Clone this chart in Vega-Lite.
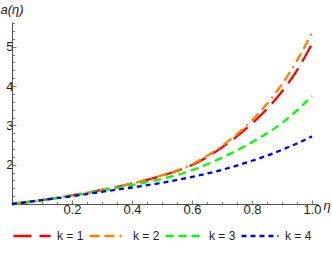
{
  "$schema": "https://vega.github.io/schema/vega-lite/v6.json",
  "width": 306,
  "height": 182,
  "autosize": "none",
  "padding": {"left": 12, "top": 22, "right": 14, "bottom": 49},
  "data": {
    "values": [
      {"k": 1, "eta": 0, "a": 1}, {"k": 1, "eta": 0.1, "a": 1.10}, {"k": 1, "eta": 0.2, "a": 1.22}, {"k": 1, "eta": 0.3, "a": 1.36}, {"k": 1, "eta": 0.4, "a": 1.52}, {"k": 1, "eta": 0.5, "a": 1.72}, {"k": 1, "eta": 0.6, "a": 1.99}, {"k": 1, "eta": 0.7, "a": 2.44}, {"k": 1, "eta": 0.8, "a": 3.05}, {"k": 1, "eta": 0.85, "a": 3.42}, {"k": 1, "eta": 0.9, "a": 3.86}, {"k": 1, "eta": 0.95, "a": 4.40}, {"k": 1, "eta": 1.0, "a": 5.07},
      {"k": 2, "eta": 0, "a": 1}, {"k": 2, "eta": 0.1, "a": 1.10}, {"k": 2, "eta": 0.2, "a": 1.22}, {"k": 2, "eta": 0.3, "a": 1.36}, {"k": 2, "eta": 0.4, "a": 1.52}, {"k": 2, "eta": 0.5, "a": 1.73}, {"k": 2, "eta": 0.6, "a": 2.01}, {"k": 2, "eta": 0.7, "a": 2.48}, {"k": 2, "eta": 0.8, "a": 3.13}, {"k": 2, "eta": 0.85, "a": 3.55}, {"k": 2, "eta": 0.9, "a": 4.05}, {"k": 2, "eta": 0.95, "a": 4.65}, {"k": 2, "eta": 1.0, "a": 5.36},
      {"k": 3, "eta": 0, "a": 1}, {"k": 3, "eta": 0.1, "a": 1.10}, {"k": 3, "eta": 0.2, "a": 1.21}, {"k": 3, "eta": 0.3, "a": 1.34}, {"k": 3, "eta": 0.4, "a": 1.48}, {"k": 3, "eta": 0.5, "a": 1.64}, {"k": 3, "eta": 0.6, "a": 1.86}, {"k": 3, "eta": 0.7, "a": 2.18}, {"k": 3, "eta": 0.8, "a": 2.57}, {"k": 3, "eta": 0.85, "a": 2.80}, {"k": 3, "eta": 0.9, "a": 3.06}, {"k": 3, "eta": 0.95, "a": 3.38}, {"k": 3, "eta": 1.0, "a": 3.75},
      {"k": 4, "eta": 0, "a": 1}, {"k": 4, "eta": 0.1, "a": 1.10}, {"k": 4, "eta": 0.2, "a": 1.20}, {"k": 4, "eta": 0.3, "a": 1.31}, {"k": 4, "eta": 0.4, "a": 1.42}, {"k": 4, "eta": 0.5, "a": 1.54}, {"k": 4, "eta": 0.6, "a": 1.69}, {"k": 4, "eta": 0.7, "a": 1.87}, {"k": 4, "eta": 0.8, "a": 2.10}, {"k": 4, "eta": 0.85, "a": 2.23}, {"k": 4, "eta": 0.9, "a": 2.38}, {"k": 4, "eta": 0.95, "a": 2.54}, {"k": 4, "eta": 1.0, "a": 2.72}
    ]
  },
  "mark": {"type": "line", "strokeWidth": 2.3, "interpolate": "monotone"},
  "encoding": {
    "x": {
      "field": "eta", "type": "quantitative",
      "scale": {"domain": [0, 1.02], "nice": false, "zero": false},
      "axis": {
        "title": "η", "titleFontStyle": "italic", "titleFontWeight": "normal", "titleFontSize": 13,
        "titleColor": "#222", "titleAngle": 0, "titleX": 311, "titleY": 1, "titleAlign": "left", "titleBaseline": "middle",
        "values": [0.05, 0.1, 0.15, 0.2, 0.25, 0.3, 0.35, 0.4, 0.45, 0.5, 0.55, 0.6, 0.65, 0.7, 0.75, 0.8, 0.85, 0.9, 0.95, 1.0],
        "labelExpr": "abs(datum.value*5-round(datum.value*5))<0.001 ? format(datum.value,'.1f') : ''",
        "tickSize": {"condition": {"test": "abs(datum.value*5-round(datum.value*5))<0.001", "value": -4}, "value": -2.5},
        "labelPadding": 3, "labelFlush": false, "labelOverlap": false, "grid": false,
        "domainColor": "#555", "tickColor": "#555", "labelColor": "#222", "labelFontSize": 13, "tickWidth": 0.8, "domainWidth": 1
      }
    },
    "y": {
      "field": "a", "type": "quantitative",
      "scale": {"domain": [1, 5.63], "nice": false, "zero": false},
      "axis": {
        "title": "a(η)", "titleFontStyle": "italic", "titleFontWeight": "normal", "titleFontSize": 13,
        "titleColor": "#222", "titleAngle": 0, "titleX": -12, "titleY": -9, "titleAlign": "left", "titleBaseline": "alphabetic",
        "values": [1.2, 1.4, 1.6, 1.8, 2, 2.2, 2.4, 2.6, 2.8, 3, 3.2, 3.4, 3.6, 3.8, 4, 4.2, 4.4, 4.6, 4.8, 5, 5.2, 5.4, 5.6],
        "labelExpr": "abs(datum.value-round(datum.value))<0.001 ? format(datum.value,'d') : ''",
        "tickSize": {"condition": {"test": "abs(datum.value-round(datum.value))<0.001", "value": -4}, "value": -2.5},
        "labelPadding": 3, "labelOverlap": false, "grid": false,
        "domainColor": "#555", "tickColor": "#555", "labelColor": "#222", "labelFontSize": 13, "tickWidth": 0.8, "domainWidth": 1
      }
    },
    "color": {
      "field": "k", "type": "nominal",
      "scale": {"domain": [1, 2, 3, 4], "range": ["#ff0000", "#ff8000", "#00ff00", "#0000ff"]},
      "legend": {"title": null, "labelExpr": "'k = ' + datum.label"}
    },
    "strokeDash": {
      "field": "k", "type": "nominal",
      "scale": {"domain": [1, 2, 3, 4], "range": [[18, 8], [10, 5, 10, 5, 2, 5], [8, 5], [5, 4]]},
      "legend": {"title": null, "labelExpr": "'k = ' + datum.label"}
    }
  },
  "config": {
    "font": "Liberation Sans",
    "view": {"stroke": null},
    "legend": {
      "orient": "none", "legendX": 0, "legendY": 194, "direction": "horizontal",
      "symbolType": "stroke", "symbolSize": 1370, "symbolStrokeWidth": 2.3,
      "labelFontSize": 12, "labelColor": "#222", "labelOffset": 5, "columnPadding": 0, "padding": 0
    }
  }
}
